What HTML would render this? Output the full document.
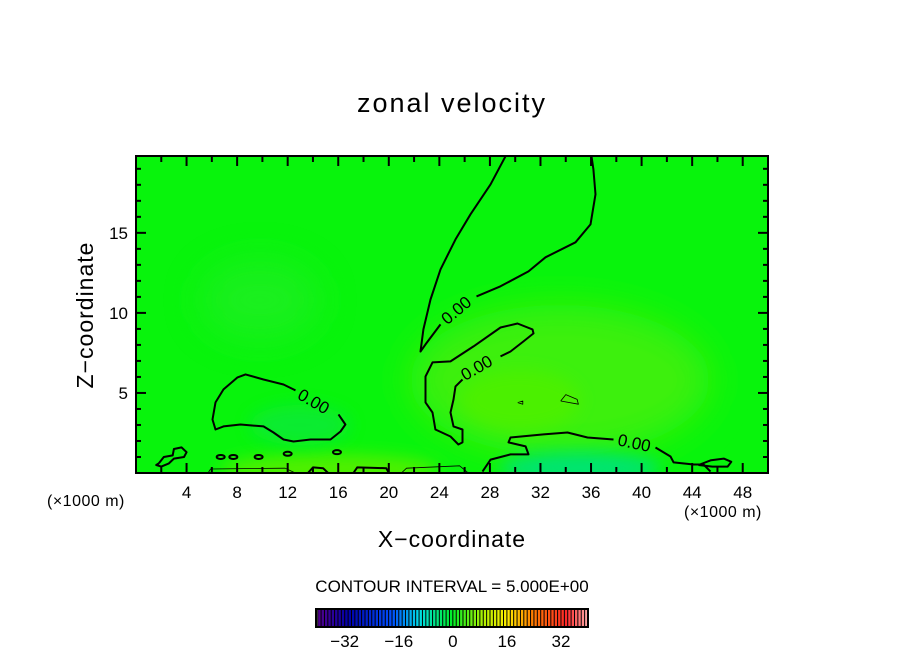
<!DOCTYPE html>
<html><head><meta charset="utf-8"><style>
html,body{margin:0;padding:0;background:#fff;}
svg{display:block;font-family:"Liberation Sans",sans-serif;}
</style></head><body>
<svg id="chart" width="904" height="654" viewBox="0 0 904 654" xmlns="http://www.w3.org/2000/svg">
<defs>
<clipPath id="pc"><rect x="136" y="156" width="632" height="317"/></clipPath>
<filter id="bl" x="-50%" y="-50%" width="200%" height="200%"><feGaussianBlur stdDeviation="18"/></filter>
<filter id="bl2" x="-50%" y="-50%" width="200%" height="200%"><feGaussianBlur stdDeviation="8"/></filter>
</defs>
<text x="452" y="112" text-anchor="middle" font-size="27" letter-spacing="2">zonal velocity</text>
<g id="field" clip-path="url(#pc)">
<rect x="136" y="156" width="632" height="317" fill="#08f40c"/>
<ellipse cx="260" cy="300" rx="60" ry="40" fill="#28ec2c" filter="url(#bl)" opacity="0.6"/>
<ellipse cx="560" cy="380" rx="150" ry="75" fill="#3cf010" filter="url(#bl)"/>
<ellipse cx="520" cy="400" rx="60" ry="30" fill="#4cf000" filter="url(#bl2)"/>
<ellipse cx="580" cy="468" rx="80" ry="16" fill="#00e470" filter="url(#bl2)"/>
<ellipse cx="330" cy="470" rx="110" ry="16" fill="#50f000" filter="url(#bl2)"/>
<ellipse cx="300" cy="425" rx="50" ry="20" fill="#10e840" filter="url(#bl2)" opacity="0.7"/>
</g>
<g id="contours" clip-path="url(#pc)"></g>
<g id="axes"></g>
<text transform="translate(93,315) rotate(-90)" text-anchor="middle" font-size="23" letter-spacing="1">Z−coordinate</text>
<text x="452" y="547" text-anchor="middle" font-size="23" letter-spacing="1">X−coordinate</text>
<text x="47" y="506" font-size="16" letter-spacing="0.5">(×1000 m)</text>
<text x="684" y="517" font-size="16" letter-spacing="0.5">(×1000 m)</text>
<text x="452" y="592" text-anchor="middle" font-size="17">CONTOUR INTERVAL = 5.000E+00</text>
<g id="cbar"></g>
</svg>
<script>
const xTicks=[4,8,12,16,20,24,28,32,36,40,44,48];
const yTicks=[5,10,15];
const cbTicks=[-32,-16,0,16,32];
const contourA=[[29.23,19.78],[28.05,18.03],[26.46,16.16],[25.28,14.59],[24.09,12.72],[23.30,10.84],[22.74,8.97],[22.51,7.59],[22.90,8.03],[24.09,9.28]];
const contourA2=[[26.94,11.03],[28.84,11.66],[31.05,12.59],[32.40,13.47],[34.77,14.41],[35.96,15.53],[36.35,17.41],[36.19,18.97],[36.04,19.78]];
const contourB=[[25.83,5.84],[25.28,5.41],[25.12,4.59],[24.88,3.78],[25.12,2.91],[25.83,2.72],[25.83,1.91],[25.51,1.78],[24.88,2.28],[23.69,2.72],[23.46,3.78],[22.90,4.41],[22.90,6.03],[23.46,6.91],[24.88,6.97],[26.70,7.91],[28.84,9.09],[30.18,9.34],[31.37,8.97],[31.45,8.72],[30.66,8.22],[29.63,7.59],[28.84,7.28]];
const contourC=[[16.02,3.66],[16.57,3.03],[16.18,2.59],[15.39,2.09],[13.81,2.09],[12.46,1.97],[11.67,2.09],[10.88,2.53],[10.09,2.91],[8.27,3.03],[6.92,2.91],[6.29,2.72],[6.05,3.34],[6.29,4.41],[6.92,5.22],[8.03,5.97],[8.66,6.16],[10.09,5.84],[11.67,5.53],[12.62,5.16]];
const contourD=[[27.41,0.09],[28.05,0.84],[29.63,1.16],[31.05,1.16],[30.82,1.66],[29.47,1.91],[29.63,2.22],[32.24,2.41],[34.14,2.53],[35.72,2.22],[37.78,2.09]];
const contourD2=[[41.10,1.59],[42.29,1.03],[42.53,0.66],[44.11,0.53],[44.90,0.53],[45.45,0.09]];
const contourE=[[1.8,0.6],[2.2,1.0],[2.9,1.1],[3.0,1.5],[3.6,1.6],[4.0,1.3],[3.8,1.0],[3.0,0.9],[2.6,0.6],[2.0,0.4],[1.6,0.5],[1.8,0.6]];
const contourF=[[44.5,0.5],[45.5,0.8],[46.5,0.9],[47.1,0.7],[46.8,0.4],[45.6,0.4],[44.5,0.5]];
const contourG=[[13.6,0],[14.0,0.35],[14.8,0.3],[15.2,0]];
const contourH=[[17.2,0],[17.5,0.35],[19.8,0.3],[20.0,0]];
const thin1=[[5.7,0],[5.9,0.25],[11.8,0.3],[12.6,0]];
const thin2=[[21.0,0],[21.4,0.3],[25.6,0.45],[26.3,0]];
const thin3=[[33.6,4.5],[34.0,4.9],[34.9,4.6],[35.0,4.3],[33.6,4.5]];
const thin4=[[30.2,4.4],[30.6,4.5],[30.6,4.3],[30.2,4.4]];
const blobs=[[6.7,1.0],[7.7,1.0],[9.7,1.0],[12.0,1.2],[15.9,1.3]];
const labels=[[25.4,10.1,-40],[27.0,6.5,-30],[14.0,4.4,30],[39.4,1.8,12]];
const x0=0,x1=50,y0=0,y1=19.8,L=136,R=768,T=156,B=473;
const X=v=>L+(v-x0)/(x1-x0)*(R-L);
const Y=v=>B-(v-y0)/(y1-y0)*(B-T);
const NS='http://www.w3.org/2000/svg';
function mk(tag,attrs,parent){const e=document.createElementNS(NS,tag);for(const k in attrs)e.setAttribute(k,attrs[k]);parent.appendChild(e);return e;}
const cg=document.getElementById('contours');
function line(pts,w,name){const p=mk('path',{d:pts.map((q,i)=>(i?'L':'M')+X(q[0]).toFixed(1)+' '+Y(q[1]).toFixed(1)).join(''),fill:'none',stroke:'#000','stroke-width':w,'stroke-linejoin':'round'},cg);

}
line(contourA,2,'zero-contour-upper');line(contourA2,2,'zero-contour-upper-b');
line(contourB,2,'zero-contour-middle');line(contourC,2,'zero-contour-left');
line(contourD,2,'zero-contour-lower');line(contourD2,2,'zero-contour-lower-b');
line(contourE,2,'zero-contour-small-left');line(contourF,2,'zero-contour-small-right');
line(contourG,2,'zero-contour-bottom-a');line(contourH,2,'zero-contour-bottom-b');
line(thin1,0.8,'thin-contour-a');line(thin2,0.8,'thin-contour-b');line(thin3,0.8,'thin-contour-c');line(thin4,0.8,'thin-contour-d');
blobs.forEach(b=>{const e=mk('ellipse',{cx:X(b[0]),cy:Y(b[1]),rx:4,ry:2,fill:'none',stroke:'#000','stroke-width':2},cg);

});
labels.forEach(l=>{const t=mk('text',{x:X(l[0]),y:Y(l[1]),'font-size':17,'text-anchor':'middle','dominant-baseline':'middle',transform:`rotate(${l[2]} ${X(l[0])} ${Y(l[1])})`},cg);t.textContent='0.00';

});
const ax=document.getElementById('axes');
const fr=mk('rect',{x:L,y:T,width:R-L,height:B-T,fill:'none',stroke:'#000','stroke-width':2},ax);


for(let v=2;v<50;v+=2){const maj=xTicks.includes(v);const len=maj?10:6;
mk('line',{x1:X(v),x2:X(v),y1:B,y2:B-len,stroke:'#000','stroke-width':2},ax);
mk('line',{x1:X(v),x2:X(v),y1:T,y2:T+len,stroke:'#000','stroke-width':2},ax);}
for(let v=1;v<20;v++){const maj=yTicks.includes(v);const len=maj?10:5;
mk('line',{x1:L,x2:L+len,y1:Y(v),y2:Y(v),stroke:'#000','stroke-width':2},ax);
mk('line',{x1:R,x2:R-len,y1:Y(v),y2:Y(v),stroke:'#000','stroke-width':2},ax);}
xTicks.forEach(v=>{const t=mk('text',{x:X(v),y:B+25,'text-anchor':'middle','font-size':17},ax);t.textContent=v;

});
yTicks.forEach(v=>{const t=mk('text',{x:L-8,y:Y(v)+6,'text-anchor':'end','font-size':17},ax);t.textContent=v;

});
const cb=document.getElementById('cbar');const cL=316,cR=588,cT=609,cB=627,cmin=-40.5,cmax=40;
const CX=v=>cL+(v-cmin)/(cmax-cmin)*(cR-cL);
function col(v){const f=(v-cmin)/(cmax-cmin);const stops=[[0,[90,0,140]],[0.12,[0,0,170]],[0.28,[0,80,255]],[0.38,[0,220,230]],[0.5,[0,240,40]],[0.62,[180,240,0]],[0.7,[255,240,0]],[0.8,[255,120,0]],[0.92,[255,40,40]],[1,[255,170,170]]];
for(let i=1;i<stops.length;i++){if(f<=stops[i][0]){const a=stops[i-1],b=stops[i];const t=(f-a[0])/(b[0]-a[0]);return 'rgb('+a[1].map((c,j)=>Math.round(c+(b[1][j]-c)*t)).join(',')+')';}}return 'rgb(255,170,170)';}
for(let v=-40;v<40;v+=1){mk('rect',{x:CX(v),y:cT,width:CX(v+1)-CX(v),height:cB-cT,fill:col(v+0.5)},cb);
mk('line',{x1:CX(v),x2:CX(v),y1:cT,y2:cB,stroke:'#000','stroke-width':1},cb);}
mk('rect',{x:cL,y:cT,width:cR-cL,height:cB-cT,fill:'none',stroke:'#000','stroke-width':2},cb);
cbTicks.forEach(v=>{const t=mk('text',{x:CX(v),y:647,'text-anchor':'middle','font-size':17},cb);t.textContent=(v<0?'−'+(-v):v);

});
</script>
</body></html>
